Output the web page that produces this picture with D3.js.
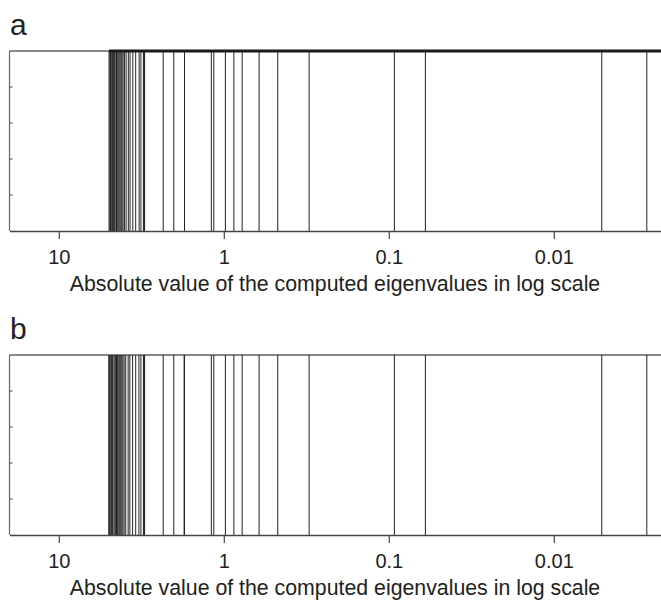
<!DOCTYPE html>
<html>
<head>
<meta charset="utf-8">
<script src="https://cdn.jsdelivr.net/npm/d3@7"></script>
<style>
  body { margin: 0; background: #fff; }
  text { font-family: "Liberation Sans", Arial, sans-serif; fill: #222; }
</style>
</head>
<body>
<div id="chart"></div>
<script>
// eigenvalue magnitudes
var eigA = [4.96, 4.90, 4.86, 4.78, 4.72, 4.67, 4.59, 4.51, 4.47, 4.43, 4.37, 4.31, 4.25, 4.19, 4.14,
    4.08, 4.00, 3.91, 3.79, 3.70, 3.56, 3.42, 3.26, 3.18, 3.07, 3.04, 3.02,
    2.33, 2.01, 1.73, 1.19, 1.15, 0.978, 0.869, 0.774, 0.611, 0.471, 0.304,
    0.0925, 0.060, 0.00512, 0.00273];
var eigB = [4.98, 4.92, 4.88, 4.80, 4.74, 4.70, 4.62, 4.55, 4.50, 4.47, 4.40, 4.33, 4.27, 4.21, 4.15,
    4.09, 4.02, 3.93, 3.80, 3.71, 3.57, 3.42, 3.27, 3.18, 3.07, 3.04, 3.02,
    2.33, 2.01, 1.74, 1.73, 1.19, 1.15, 0.978, 0.869, 0.774, 0.611, 0.471, 0.304,
    0.0925, 0.060, 0.00512, 0.00273];
var xTicks = [10, 1, 0.1, 0.01];
var panelLabels = ["a", "b"];
var axisTitle = "Absolute value of the computed eigenvalues in log scale";

var W = 661, H = 601;
var svg = d3.select("#chart").append("svg")
    .attr("width", W)
    .attr("height", H);

// reversed log scale: large values on the left
var x = d3.scaleLog()
    .domain([19.9, 0.00224])
    .range([9.5, 661]);

var plotH = 180;
var y = d3.scaleLinear().domain([0, 5]).range([plotH, 0]);

function drawPanel(top, eig, label, thickTop) {
    var g = svg.append("g").attr("transform", "translate(0," + top + ")");

    // panel letter
    svg.append("text")
        .attr("x", 10)
        .attr("y", top - 16)
        .style("font-size", "30px")
        .text(label);

    // frame: top and left
    g.append("line")
        .attr("x1", x.range()[0]).attr("x2", W)
        .attr("y1", 0).attr("y2", 0)
        .attr("stroke", "#888").attr("stroke-width", 2);
    g.append("line")
        .attr("x1", x.range()[0]).attr("x2", x.range()[0])
        .attr("y1", 0).attr("y2", plotH)
        .attr("stroke", "#666").attr("stroke-width", 1.2);

    // left ticks (inward)
    g.selectAll(".ytick")
        .data([1, 2, 3, 4])
        .enter().append("line")
        .attr("x1", x.range()[0]).attr("x2", x.range()[0] + 3)
        .attr("y1", function(d) { return y(d); })
        .attr("y2", function(d) { return y(d); })
        .attr("stroke", "#444");

    // eigenvalue lines
    g.selectAll(".eig")
        .data(eig)
        .enter().append("line")
        .attr("x1", function(d) { return x(d); })
        .attr("x2", function(d) { return x(d); })
        .attr("y1", y(5))
        .attr("y2", y(0))
        .attr("stroke", "#222")
        .attr("stroke-width", 1);

    if (thickTop) {
        g.append("line")
            .attr("x1", x(d3.max(eig))).attr("x2", W)
            .attr("y1", 0).attr("y2", 0)
            .attr("stroke", "#1a1a1a").attr("stroke-width", 3);
    }

    // bottom axis
    var ax = g.append("g")
        .attr("transform", "translate(0," + plotH + ")")
        .call(d3.axisBottom(x)
            .tickValues(xTicks)
            .tickFormat(d3.format("~g"))
            .tickSizeInner(8)
            .tickSizeOuter(0)
            .tickPadding(11));
    ax.select(".domain").attr("stroke", "#444").attr("stroke-width", 1.5);
    ax.selectAll(".tick line").attr("stroke", "#444").attr("stroke-width", 1.2);
    ax.selectAll(".tick text")
        .style("font-family", "'Liberation Sans', Arial, sans-serif")
        .style("font-size", "20px")
        .attr("fill", "#222");

    g.append("text")
        .attr("x", 335)
        .attr("y", plotH + 60)
        .attr("text-anchor", "middle")
        .style("font-size", "21.3px")
        .text(axisTitle);
}

drawPanel(51, eigA, panelLabels[0], true);
drawPanel(355, eigB, panelLabels[1], false);
</script>
</body>
</html>
